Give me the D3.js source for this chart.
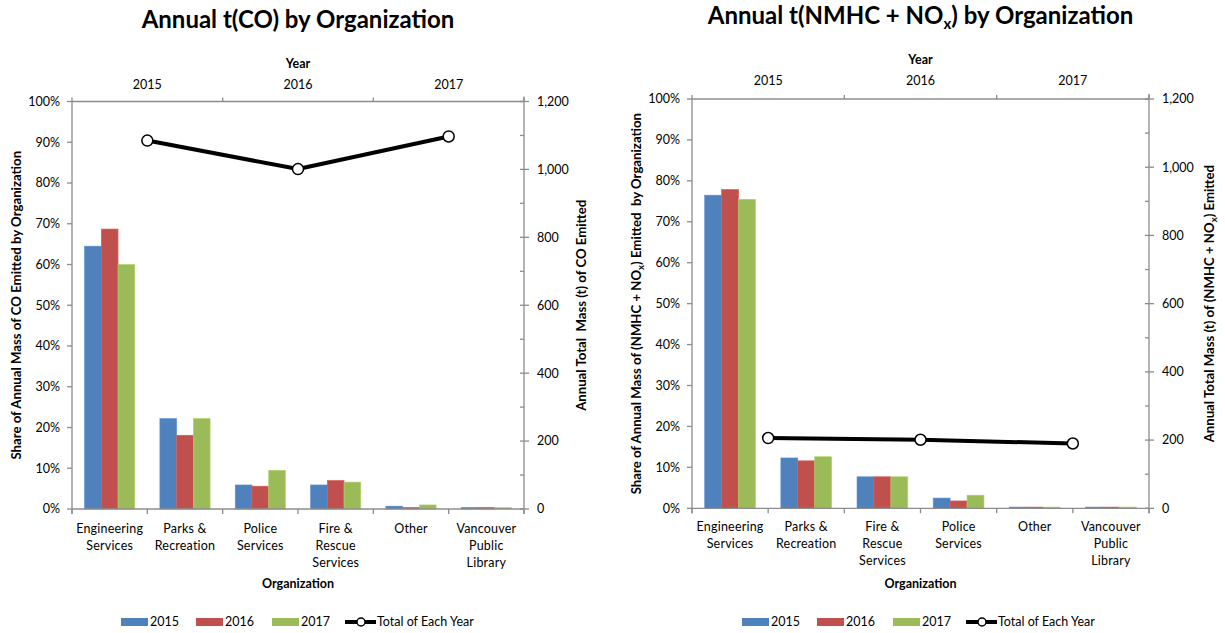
<!DOCTYPE html>
<html>
<head>
<meta charset="utf-8">
<script src="https://cdn.jsdelivr.net/npm/d3@7"></script>
<style>
  html, body { margin: 0; padding: 0; background: #fff; }
  svg { display: block; font-family: "Lato", "Liberation Sans", sans-serif; }
</style>
</head>
<body>
<svg id="chart" width="1225" height="633"></svg>
<script>
// ---- Data ----
const years = ["2015", "2016", "2017"];
const seriesColors = ["#4F81BD", "#C0504D", "#9BBB59"];

// Carbon monoxide: share of annual mass by organization (%)
const coCategories = ["Engineering\nServices", "Parks &\nRecreation", "Police\nServices",
                      "Fire &\nRescue\nServices", "Other", "Vancouver\nPublic\nLibrary"];
const co2015 = [64.5, 22.2, 5.9, 5.9, 0.7, 0.4];
const co2016 = [68.7, 18.1, 5.6, 7.0, 0.4, 0.4];
const co2017 = [60.0, 22.2, 9.5, 6.6, 1.0, 0.35];
const coTotals = [1085, 1001, 1097];   // tonnes per year

// NMHC + NOx: share of annual mass by organization (%)
const nxCategories = ["Engineering\nServices", "Parks &\nRecreation", "Fire &\nRescue\nServices",
                      "Police\nServices", "Other", "Vancouver\nPublic\nLibrary"];
const nx2015 = [76.5, 12.3, 7.7, 2.5, 0.3, 0.3];
const nx2016 = [77.9, 11.6, 7.7, 1.8, 0.3, 0.3];
const nx2017 = [75.5, 12.6, 7.7, 3.2, 0.3, 0.3];
const nxTotals = [206, 201, 190];     // tonnes per year

const pctTicks = d3.range(0, 101, 10);
const massTicks = d3.range(0, 1201, 200);
const massMinor = d3.range(100, 1200, 200);

const svg = d3.select("#chart");
const axisColor = "#8c8c8c";

function drawChart(cfg) {
  const g = svg.append("g");
  const { x0, x1, yTop, yBot } = cfg.box;

  const xCat = d3.scaleBand().domain(d3.range(cfg.categories.length)).range([x0, x1]);
  const xSub = d3.scaleBand().domain(d3.range(years.length))
    .range([0, xCat.bandwidth()]).paddingOuter(0.75).paddingInner(0);
  const xYear = d3.scaleBand().domain(years).range([x0, x1]);
  const yPct = d3.scaleLinear().domain([0, 100]).range([yBot, yTop]);
  const yMass = d3.scaleLinear().domain([0, 1200]).range([yBot, yTop]);

  // Title
  const title = g.append("text")
    .attr("x", (x0 + x1) / 2).attr("y", cfg.titleY)
    .attr("text-anchor", "middle")
    .attr("font-size", 24).attr("font-weight", "bold").attr("fill", "#000");
  cfg.title.forEach(p => {
    const t = title.append("tspan").text(p.t);
    if (p.sub) t.attr("font-size", 15).attr("dy", 5);
    else if (p.after) t.attr("dy", -5);
  });

  // Bars
  cfg.values.forEach((vals, si) => {
    g.append("g").selectAll("rect").data(vals).join("rect")
      .attr("x", (d, i) => xCat(i) + xSub(si))
      .attr("width", xSub.bandwidth())
      .attr("y", d => yPct(d))
      .attr("height", d => yBot - yPct(d))
      .attr("fill", seriesColors[si])
      .attr("stroke", d3.color(seriesColors[si]).brighter(0.35))
      .attr("stroke-width", 0.6);
  });

  // Left percentage axis
  const ax = g.append("g").attr("stroke", axisColor).attr("stroke-width", 1.3);
  ax.append("line").attr("x1", x0).attr("x2", x0).attr("y1", yTop).attr("y2", yBot + 5);
  ax.selectAll(".lt").data(pctTicks).join("line")
    .attr("x1", x0 - 5).attr("x2", x0).attr("y1", d => yPct(d)).attr("y2", d => yPct(d));
  g.append("g").selectAll("text").data(pctTicks).join("text")
    .attr("x", x0 - 12).attr("y", d => yPct(d)).attr("dy", "0.35em")
    .attr("text-anchor", "end").attr("font-size", 12.5).attr("fill", "#000")
    .text(d => d + "%");

  // Right mass axis
  ax.append("line").attr("x1", x1).attr("x2", x1).attr("y1", yTop - 5).attr("y2", yBot + 5);
  ax.selectAll(".rt").data(massTicks).join("line")
    .attr("x1", x1 - 4).attr("x2", x1 + 5).attr("y1", d => yMass(d)).attr("y2", d => yMass(d));
  ax.selectAll(".rm").data(massMinor).join("line")
    .attr("x1", x1 - 4).attr("x2", x1).attr("y1", d => yMass(d)).attr("y2", d => yMass(d));
  g.append("g").selectAll("text").data(massTicks).join("text")
    .attr("x", x1 + 13).attr("y", d => yMass(d)).attr("dy", "0.35em")
    .attr("text-anchor", "start").attr("font-size", 12.5).attr("fill", "#000")
    .text(d => d3.format(",")(d));

  // Bottom category axis
  ax.append("line").attr("x1", x0).attr("x2", x1).attr("y1", yBot).attr("y2", yBot);
  ax.selectAll(".bt").data(d3.range(cfg.categories.length + 1)).join("line")
    .attr("x1", i => x0 + i * xCat.step()).attr("x2", i => x0 + i * xCat.step())
    .attr("y1", yBot).attr("y2", yBot + 5);
  const catLabels = g.append("g").selectAll("text").data(cfg.categories).join("text")
    .attr("text-anchor", "middle").attr("font-size", 12.5).attr("fill", "#000")
    .attr("letter-spacing", 0.2);
  catLabels.each(function(d, i) {
    d.split("\n").forEach((line, li) => {
      d3.select(this).append("tspan")
        .attr("x", xCat(i) + xCat.bandwidth() / 2)
        .attr("y", cfg.catY + li * 17)
        .text(line);
    });
  });
  g.append("text").attr("x", (x0 + x1) / 2).attr("y", 588)
    .attr("text-anchor", "middle").attr("font-size", 12.5).attr("font-weight", "bold")
    .text("Organization");

  // Top year axis
  ax.append("line").attr("x1", x0).attr("x2", x1).attr("y1", yTop).attr("y2", yTop);
  ax.selectAll(".tt").data(d3.range(years.length + 1)).join("line")
    .attr("x1", i => x0 + i * xYear.step()).attr("x2", i => x0 + i * xYear.step())
    .attr("y1", yTop - 4).attr("y2", yTop);
  g.append("g").selectAll("text").data(years).join("text")
    .attr("x", d => xYear(d) + xYear.bandwidth() / 2).attr("y", cfg.yearY)
    .attr("text-anchor", "middle").attr("font-size", 12.5).attr("fill", "#000")
    .text(d => d);
  g.append("text").attr("x", (x0 + x1) / 2).attr("y", cfg.yearY - 21)
    .attr("text-anchor", "middle").attr("font-size", 12.5).attr("font-weight", "bold")
    .text("Year");

  // Axis titles (rotated)
  function vTitle(x, parts) {
    const t = g.append("text")
      .attr("transform", `translate(${x},${(yTop + yBot) / 2}) rotate(-90)`)
      .attr("text-anchor", "middle").attr("font-size", 13.2).attr("font-weight", "bold")
      .attr("xml:space", "preserve");
    parts.forEach(p => {
      const s = t.append("tspan").text(p.t);
      if (p.sub) s.attr("font-size", 9.5).attr("dy", 3);
      else if (p.after) s.attr("dy", -3);
    });
  }
  vTitle(cfg.leftTitleX, cfg.leftTitle);
  vTitle(cfg.rightTitleX, cfg.rightTitle);

  // Annual totals line on the secondary axis
  const line = d3.line()
    .x((d, i) => xYear(years[i]) + xYear.bandwidth() / 2)
    .y(d => yMass(d));
  g.append("path").datum(cfg.totals).attr("d", line)
    .attr("fill", "none").attr("stroke", "#000").attr("stroke-width", 4)
    .attr("stroke-linejoin", "round");
  g.append("g").selectAll("circle").data(cfg.totals).join("circle")
    .attr("cx", (d, i) => xYear(years[i]) + xYear.bandwidth() / 2)
    .attr("cy", d => yMass(d)).attr("r", 5.5)
    .attr("fill", "#fff").attr("stroke", "#000").attr("stroke-width", 1.5);

  // Legend
  const lg = g.append("g").attr("transform", `translate(${cfg.legendX},622)`);
  const lx = [0, 75, 151];
  years.forEach((y, i) => {
    lg.append("rect").attr("x", lx[i]).attr("y", -4).attr("width", 27).attr("height", 8)
      .attr("fill", seriesColors[i]);
    lg.append("text").attr("x", lx[i] + 29).attr("y", 0).attr("dy", "0.35em")
      .attr("font-size", 12.5).text(y);
  });
  lg.append("line").attr("x1", 224).attr("x2", 255).attr("y1", 0).attr("y2", 0)
    .attr("stroke", "#000").attr("stroke-width", 4);
  lg.append("circle").attr("cx", 240).attr("cy", 0).attr("r", 4)
    .attr("fill", "#fff").attr("stroke", "#000").attr("stroke-width", 1.5);
  lg.append("text").attr("x", 256).attr("y", 0).attr("dy", "0.35em")
    .attr("font-size", 12.5).text("Total of Each Year");
}

drawChart({
  box: { x0: 72, x1: 524, yTop: 101.5, yBot: 509 },
  categories: coCategories,
  values: [co2015, co2016, co2017],
  totals: coTotals,
  title: [{ t: "Annual t(CO) by Organization" }],
  titleY: 28, yearY: 89, catY: 533,
  leftTitleX: 21, rightTitleX: 586,
  leftTitle: [{ t: "Share of Annual Mass of CO Emitted by Organization" }],
  rightTitle: [{ t: "Annual Total  Mass (t) of CO Emitted" }],
  legendX: 121
});

drawChart({
  box: { x0: 692, x1: 1149, yTop: 99, yBot: 508.3 },
  categories: nxCategories,
  values: [nx2015, nx2016, nx2017],
  totals: nxTotals,
  title: [{ t: "Annual t(NMHC + NO" }, { t: "x", sub: true }, { t: ") by Organization", after: true }],
  titleY: 24, yearY: 85, catY: 531,
  leftTitleX: 641, rightTitleX: 1214,
  leftTitle: [{ t: "Share of Annual Mass of (NMHC + NO" }, { t: "x", sub: true }, { t: ") Emitted  by Organization", after: true }],
  rightTitle: [{ t: "Annual Total Mass (t) of (NMHC + NO" }, { t: "x", sub: true }, { t: ") Emitted", after: true }],
  legendX: 742
});
</script>
</body>
</html>
